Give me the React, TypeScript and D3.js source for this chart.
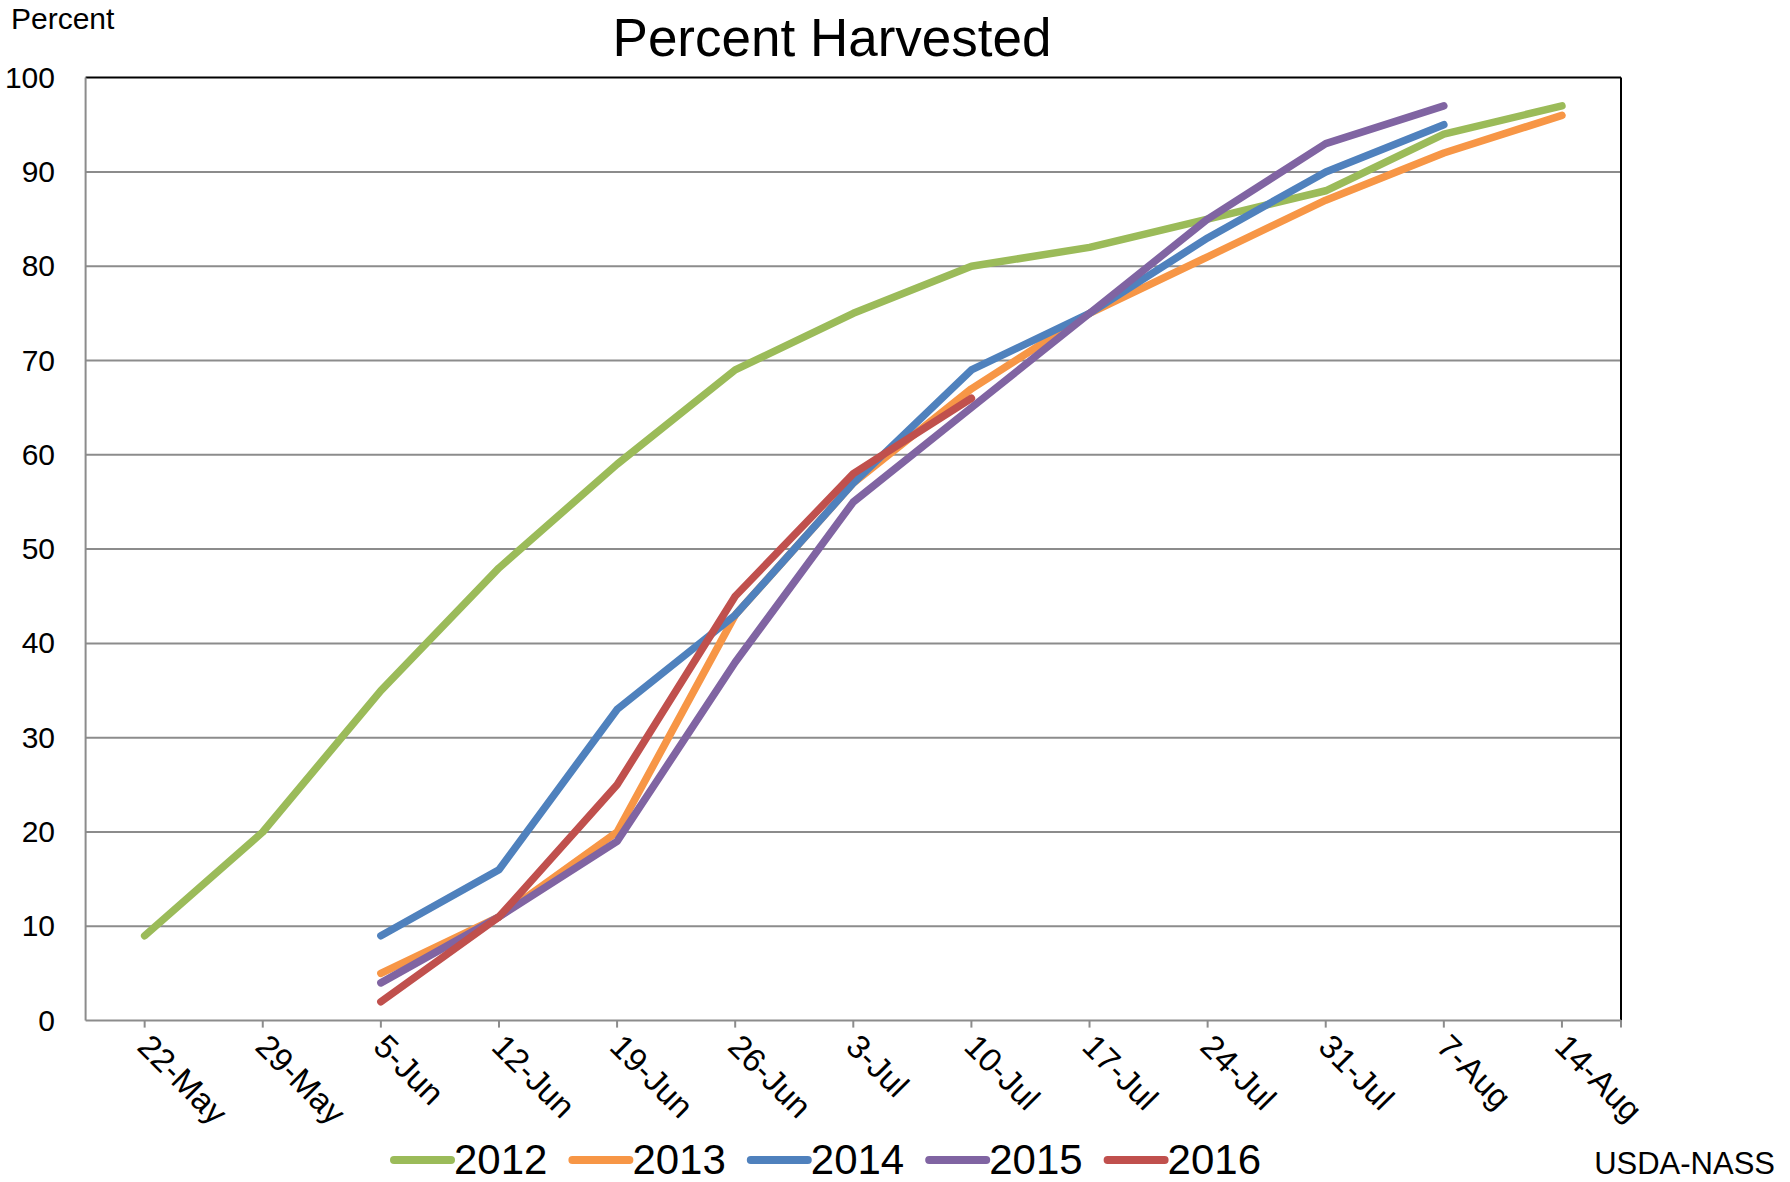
import React from "react";
import * as d3 from "d3";

const categories = ["22-May","29-May","5-Jun","12-Jun","19-Jun","26-Jun","3-Jul","10-Jul","17-Jul","24-Jul","31-Jul","7-Aug","14-Aug"];
const yTicks = [0,10,20,30,40,50,60,70,80,90,100];
const seriesNames = ["2012","2013","2014","2015","2016"];
const seriesColors = ["#9BBB59","#F79646","#4F81BD","#8064A2","#C0504D"];
const v2012: (number|null)[] = [9,20,35,48,59,69,75,80,82,85,88,94,97];
const v2013: (number|null)[] = [null,null,5,11,20,43,57,67,75,81,87,92,96];
const v2014: (number|null)[] = [null,null,9,16,33,43,57,69,75,83,90,95,null];
const v2015: (number|null)[] = [null,null,4,11,19,38,55,65,75,85,93,97,null];
const v2016: (number|null)[] = [null,null,2,11,25,45,58,66,null,null,null,null,null];
const seriesValues = [v2012,v2013,v2014,v2015,v2016];

const W = 1790, H = 1182;
const L = 85.6, R = 1621, T = 77.6, B = 1020.6;
const FONT = "'Liberation Sans', Arial, sans-serif";

export default function App() {
  const x = d3.scaleBand<string>().domain(categories).range([L, R]);
  const cx = (c: string) => (x(c) as number) + x.bandwidth() / 2;
  const y = d3.scaleLinear().domain([0, 100]).range([B, T]);
  const line = d3.line<[string, number|null]>()
    .defined(d => d[1] !== null)
    .x(d => cx(d[0]))
    .y(d => y(d[1] as number));
  const tickXs = [...categories.map(cx), R];
  return (
    <svg width={W} height={H} style={{ position: "absolute", left: 0, top: 0, background: "#fff" }} fontFamily={FONT}>
      <rect x={0} y={0} width={W} height={H} fill="#fff" />
      {yTicks.filter(t => t > 0 && t < 100).map(t => (
        <line key={t} x1={L} x2={R} y1={y(t)} y2={y(t)} stroke="#8C8C8C" strokeWidth={2} />
      ))}
      <line x1={L} x2={R} y1={y(100)} y2={y(100)} stroke="#000" strokeWidth={2} />
      <line x1={R} x2={R} y1={y(100)} y2={B} stroke="#000" strokeWidth={2} />
      <line x1={L} x2={L} y1={y(100)} y2={B} stroke="#8C8C8C" strokeWidth={2} />
      <line x1={L} x2={R} y1={B} y2={B} stroke="#8C8C8C" strokeWidth={2} />
      {tickXs.map((tx, i) => (
        <line key={i} x1={tx} x2={tx} y1={B} y2={B + 7} stroke="#8C8C8C" strokeWidth={2} />
      ))}
      {yTicks.map(t => (
        <text key={t} x={55} y={y(t) + 10} textAnchor="end" fontSize={30} fill="#000">{t}</text>
      ))}
      {categories.map(c => (
        <text key={c} transform={`translate(${cx(c) - 9},${B + 28}) rotate(45)`} fontSize={33} fill="#000">{c}</text>
      ))}
      {seriesValues.map((vals, i) => (
        <path key={seriesNames[i]} d={line(categories.map((c, j) => [c, vals[j]] as [string, number|null])) || ""}
          fill="none" stroke={seriesColors[i]} strokeWidth={7.5} strokeLinecap="round" strokeLinejoin="round" />
      ))}
      <text x={832} y={56} textAnchor="middle" fontSize={53} fill="#000">Percent  Harvested</text>
      <text x={11} y={29} fontSize={30} fill="#000">Percent</text>
      {seriesNames.map((n, i) => {
        const sx = 394 + i * 178.4;
        return (
          <g key={n}>
            <line x1={sx} x2={sx + 57} y1={1160} y2={1160} stroke={seriesColors[i]} strokeWidth={8} strokeLinecap="round" />
            <text x={sx + 60} y={1174} fontSize={42} fill="#000">{n}</text>
          </g>
        );
      })}
      <text x={1775} y={1174} textAnchor="end" fontSize={31} fill="#000">USDA-NASS</text>
    </svg>
  );
}
